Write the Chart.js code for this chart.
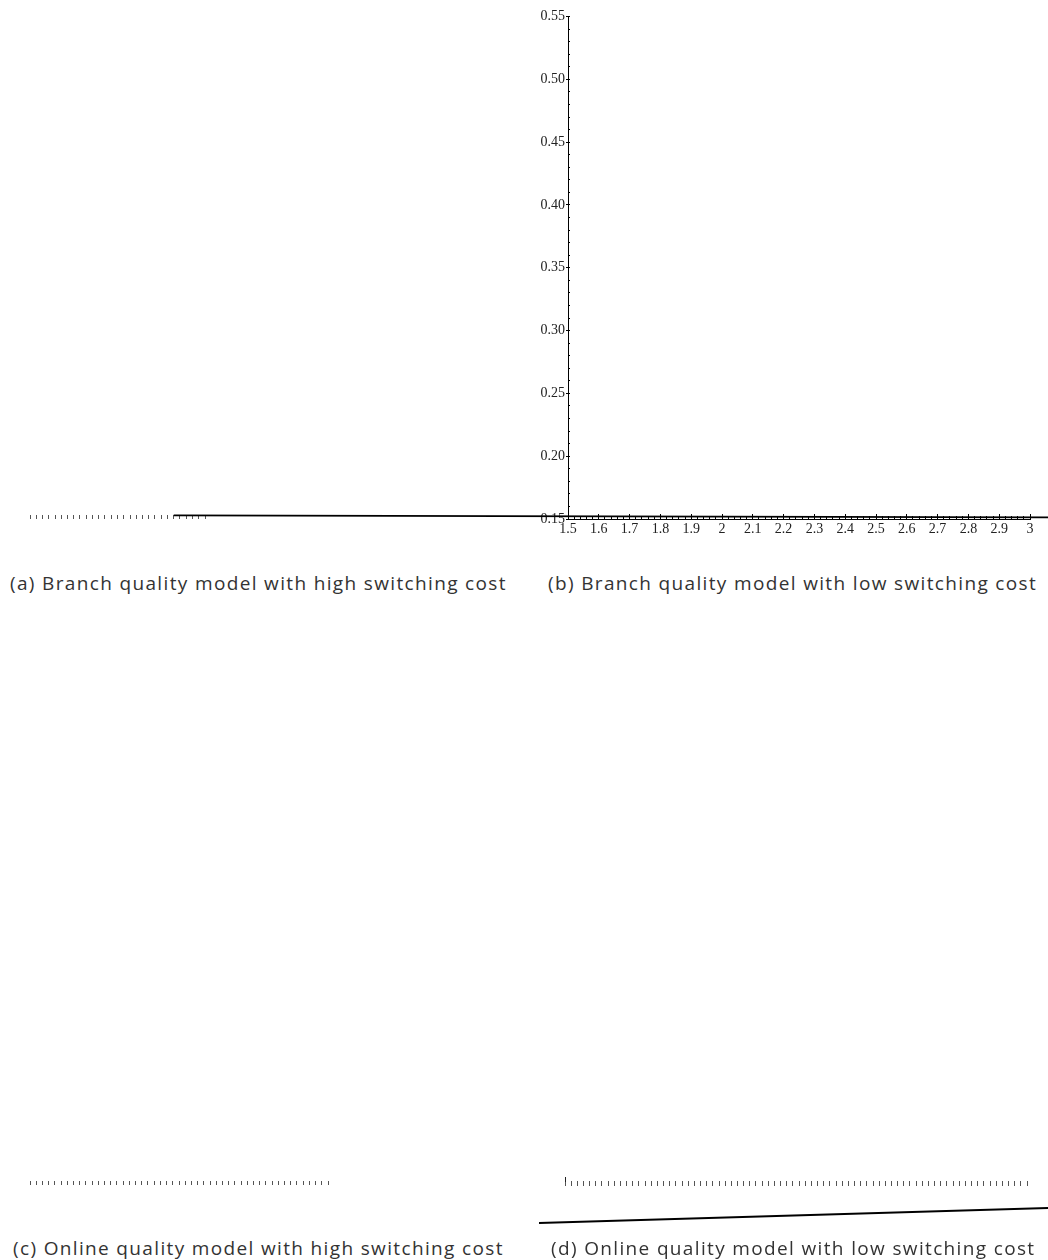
<!DOCTYPE html>
<html>
<head>
<meta charset="utf-8">
<script src="https://cdn.jsdelivr.net/npm/chart.js@4.4.1/dist/chart.umd.min.js"></script>
<style>
  html, body { margin: 0; padding: 0; background: #fff; }
  body { width: 1048px; height: 1260px; position: relative; overflow: hidden; }
  canvas { position: absolute; }
  .cap { position: absolute; font-family: "Open Sans", "Noto Sans", sans-serif; font-size: 19px;
         letter-spacing: 1.35px; line-height: 20px; color: #333; white-space: nowrap; }
</style>
</head>
<body>
<canvas id="rowA" width="520" height="60" style="left:0;top:470px"></canvas>
<canvas id="panelB" width="1048" height="545" style="left:0;top:0"></canvas>
<canvas id="rowC" width="520" height="60" style="left:0;top:1136px"></canvas>
<canvas id="panelD" width="528" height="100" style="left:520px;top:1136px"></canvas>

<div class="cap" id="capA" style="left:10px;top:573px"></div>
<div class="cap" id="capB" style="left:548px;top:573px"></div>
<div class="cap" id="capC" style="left:13px;top:1238px"></div>
<div class="cap" id="capD" style="left:551px;top:1238px"></div>

<script>
// ---- data ----
const captions = [
  '(a) Branch quality model with high switching cost',
  '(b) Branch quality model with low switching cost',
  '(c) Online quality model with high switching cost',
  '(d) Online quality model with low switching cost'
];

// (b) axis ticks and labels
const bXTicks  = [1.5, 1.6, 1.7, 1.8, 1.9, 2, 2.1, 2.2, 2.3, 2.4, 2.5, 2.6, 2.7, 2.8, 2.9, 3];
const bXLabels = ['1.5', '1.6', '1.7', '1.8', '1.9', '2', '2.1', '2.2', '2.3', '2.4', '2.5', '2.6', '2.7', '2.8', '2.9', '3'];
const bYTicks  = [0.15, 0.20, 0.25, 0.30, 0.35, 0.40, 0.45, 0.50, 0.55];
const bYLabels = ['0.15', '0.20', '0.25', '0.30', '0.35', '0.40', '0.45', '0.50', '0.55'];

// branch quality curve (runs across panels a and b)
const branchX = [0.22, 3.06];
const branchY = [0.1529, 0.1513];

// online quality curve, panel (d)
const onlineX = [1.4156, 3.07];
const onlineY = [0.1164, 0.1284];

// x ranges of the unlabelled axes in panels a, c, d
const rangeA = [1.5, 2.06];
const rangeC = [1.5, 2.46];
const rangeD = [1.5, 3];
const minorStep = 0.02;

// ---- drawing ----
Chart.defaults.animation = false;
Chart.defaults.font.family = '"Liberation Serif", "Times New Roman", serif';
Chart.defaults.font.size = 14;
Chart.defaults.color = '#222';
Chart.defaults.plugins.legend.display = false;
Chart.defaults.plugins.tooltip.enabled = false;

const fixW = w => s => { s.width = w; };
const fixH = h => s => { s.height = h; };
const pts = (xs, ys) => xs.map((x, i) => ({ x, y: ys[i] }));

['capA', 'capB', 'capC', 'capD'].forEach((id, i) => {
  document.getElementById(id).textContent = captions[i];
});

// axis made only of short tick marks (no labels, no line)
function tickRow(id, range, padding) {
  return new Chart(document.getElementById(id), {
    type: 'line',
    data: { datasets: [] },
    options: {
      responsive: false,
      devicePixelRatio: 1,
      layout: { padding },
      scales: {
        x: {
          type: 'linear', position: 'bottom', min: range[0], max: range[1],
          ticks: { display: false, stepSize: minorStep, autoSkip: false },
          grid: { drawOnChartArea: false, tickLength: 4, color: '#555' },
          border: { display: false },
          afterFit: fixH(15)
        },
        y: { display: false, min: 0, max: 1 }
      }
    }
  });
}

tickRow('rowA', rangeA, { left: 30, right: 315, top: 10, bottom: 0 });
tickRow('rowC', rangeC, { left: 30, right: 192, top: 10, bottom: 0 });

// panel (b)
new Chart(document.getElementById('panelB'), {
  type: 'line',
  data: {
    datasets: [{
      data: pts(branchX, branchY),
      xAxisID: 'x', yAxisID: 'y',
      borderColor: '#000', borderWidth: 1.6, pointRadius: 0, tension: 0, clip: false
    }]
  },
  options: {
    responsive: false,
    devicePixelRatio: 1,
    layout: { padding: { left: 520, right: 18, top: 16.5, bottom: 0 } },
    scales: {
      x: {
        type: 'linear', axis: 'x', position: 'bottom', min: 1.5, max: 3,
        afterBuildTicks: s => { s.ticks = bXTicks.map(v => ({ value: v })); },
        ticks: { callback: (v, i) => bXLabels[i], padding: 7, autoSkip: false, maxRotation: 0 },
        grid: { drawOnChartArea: false, tickLength: -5, color: '#000' },
        border: { display: true, color: '#000', width: 1 },
        afterFit: fixH(26)
      },
      xm: {
        type: 'linear', axis: 'x', position: { y: 0.15 }, min: 1.5, max: 3,
        ticks: { display: false, stepSize: minorStep, autoSkip: false },
        grid: { drawOnChartArea: false, tickLength: -3, color: '#000' },
        border: { display: false }
      },
      y: {
        type: 'linear', axis: 'y', position: 'left', min: 0.15, max: 0.55,
        afterBuildTicks: s => { s.ticks = bYTicks.map(v => ({ value: v })); },
        ticks: { callback: (v, i) => bYLabels[i], padding: 1, autoSkip: false },
        grid: { drawOnChartArea: false, tickLength: 2, color: '#000' },
        border: { display: true, color: '#000', width: 1 },
        afterFit: fixW(48)
      },
      ym: {
        type: 'linear', axis: 'y', position: { x: 1.5 }, min: 0.15, max: 0.55,
        ticks: { display: false, stepSize: 0.01, autoSkip: false },
        grid: { drawOnChartArea: false, tickLength: -2, color: '#000' },
        border: { display: false }
      }
    }
  }
});

// panel (d)
new Chart(document.getElementById('panelD'), {
  type: 'line',
  data: {
    datasets: [{
      data: pts(onlineX, onlineY),
      borderColor: '#000', borderWidth: 2, pointRadius: 0, tension: 0, clip: false
    }]
  },
  options: {
    responsive: false,
    devicePixelRatio: 1,
    layout: { padding: { left: 45, right: 21, top: 41, bottom: 0 } },
    scales: {
      x: {
        type: 'linear', position: 'bottom', min: rangeD[0], max: rangeD[1],
        ticks: { display: false, stepSize: minorStep, autoSkip: false },
        grid: { drawOnChartArea: false, tickLength: 5, color: '#555' },
        border: { display: false },
        afterFit: fixH(55)
      },
      y: {
        type: 'linear', position: 'left', min: 0.15, max: 0.1532,
        ticks: { display: false },
        grid: { drawOnChartArea: false, drawTicks: false },
        border: { display: true, color: '#222', width: 1 },
        afterFit: fixW(0)
      }
    }
  }
});
</script>
</body>
</html>
